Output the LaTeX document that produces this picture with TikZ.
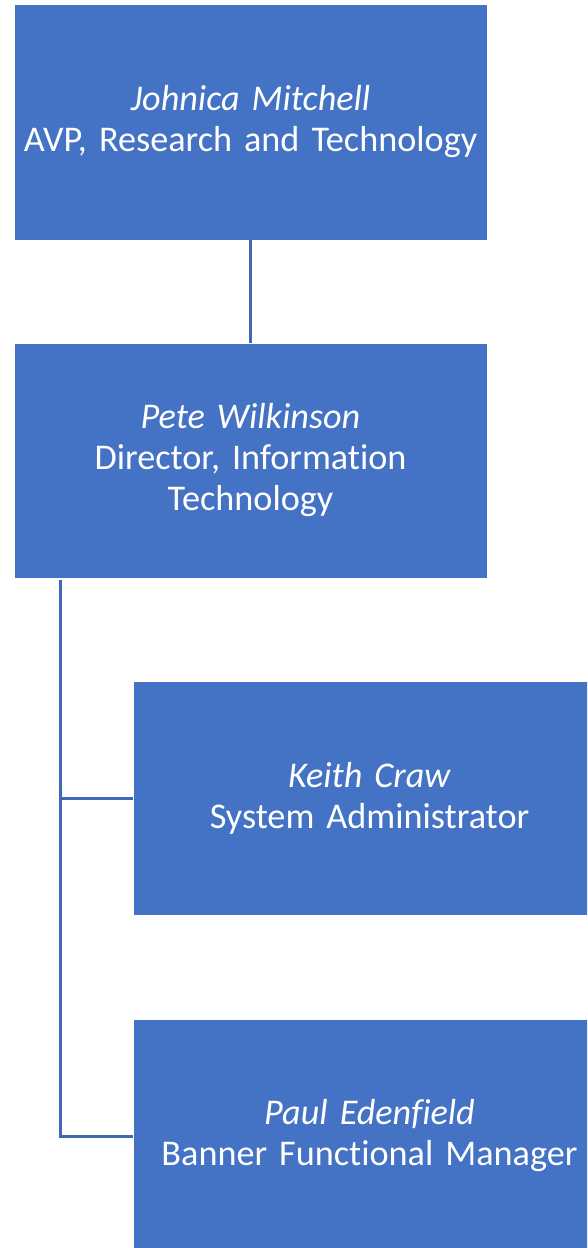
\documentclass[tikz,border=0pt]{standalone}
\usepackage{fontspec}
\setmainfont{Carlito}[Ligatures={NoCommon}]
\usetikzlibrary{calc}
\definecolor{boxblue}{HTML}{4472C4}
\definecolor{lineblue}{HTML}{4069B3}
\begin{document}
\begin{tikzpicture}[x=1pt,y=-1pt,
  orgbox/.style={fill=boxblue, draw=white, line width=0.8pt, minimum width=473pt, text width=466pt, align=center, text=white, font=\fontsize{36.2}{41}\selectfont, inner sep=0pt},
  conn/.style={draw=lineblue, line width=3pt}]
\useasboundingbox (0,0) rectangle (587,1248);
\begin{scope}
\clip (0,0) rectangle (587,1248);
\node[orgbox, minimum height=236pt] (a) at (250.5,122) {\textit{Johnica Mitchell}\\AVP, Research and Technology};
\node[orgbox, minimum height=235pt] (b) at (250.5,460.5) {\textit{Pete Wilkinson}\\Director, Information\\Technology};
\node[orgbox, minimum height=234pt] (c) at (369.5,798) {\textit{Keith Craw}\\System Administrator};
\node[orgbox, minimum height=234pt] (d) at (369.5,1136) {\textit{Paul Edenfield}\\Banner Functional Manager};
\end{scope}
\coordinate (bl) at ($(b.south west)+(47,2)$);
\draw[conn] (a.south) -- (b.north);
\draw[conn] (bl) |- (d.west);
\draw[conn] (bl |- c.west) -- (c.west);
\end{tikzpicture}
\end{document}
